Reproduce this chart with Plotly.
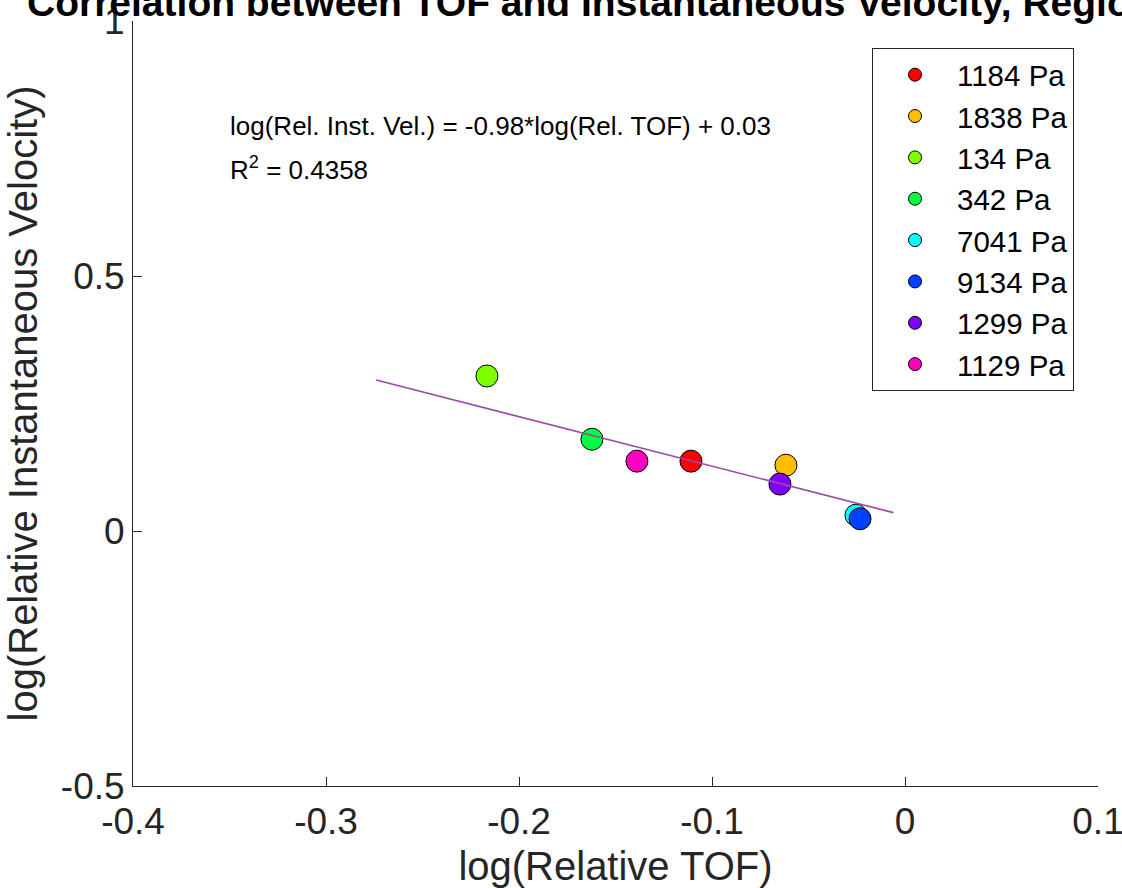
import plotly.graph_objects as go

# ---- data ----
labels = ["1184 Pa", "1838 Pa", "134 Pa", "342 Pa", "7041 Pa", "9134 Pa", "1299 Pa", "1129 Pa"]
colors = ["#FF0000", "#FFBF00", "#80FF00", "#00FF40", "#00FFFF", "#0040FF", "#8000FF", "#FF00BF"]
x_vals = [-0.1109, -0.0617, -0.2166, -0.1622, -0.0254, -0.0233, -0.0648, -0.1389]
y_vals = [0.137, 0.129, 0.304, 0.180, 0.031, 0.024, 0.092, 0.137]

fit_x = [-0.274, -0.006]
fit_y = [0.296, 0.036]

x_ticks = [-0.4, -0.3, -0.2, -0.1, 0, 0.1]
x_tick_text = ["-0.4", "-0.3", "-0.2", "-0.1", "0", "0.1"]
y_ticks = [-0.5, 0, 0.5, 1]
y_tick_text = ["-0.5", "0", "0.5", "1"]

title_text = "Correlation between TOF and Instantaneous Velocity, Region 1"
eq_text = "log(Rel. Inst. Vel.) = -0.98*log(Rel. TOF) + 0.03"
r2_text = "R<sup>2</sup> = 0.4358"

FONT = "Liberation Sans, Arial, Helvetica, sans-serif"
AX = "#262626"

W, H = 1122, 888
ML, MR, MT, MB = 133, 24, 21, 102
PW, PH = W - ML - MR, H - MT - MB


def px2paper_x(px):
    return (px - ML) / PW


def px2paper_y(py):
    return (H - MB - py) / PH


fig = go.Figure()

# data points (no legend)
for lab, col, xv, yv in zip(labels, colors, x_vals, y_vals):
    fig.add_trace(go.Scatter(
        x=[xv], y=[yv], mode="markers", name=lab, showlegend=False,
        marker=dict(size=22, color=col, line=dict(color="black", width=1)),
    ))

# fit line on top
fig.add_trace(go.Scatter(
    x=fit_x, y=fit_y, mode="lines", showlegend=False,
    line=dict(color="#9A4BA8", width=1.6),
))

# legend entries
for lab, col in zip(labels, colors):
    fig.add_trace(go.Scatter(
        x=[None], y=[None], mode="markers", name=lab,
        marker=dict(size=13, color=col, line=dict(color="black", width=1)),
    ))

fig.update_layout(
    width=W, height=H,
    margin=dict(l=ML, r=MR, t=MT, b=MB, pad=0),
    paper_bgcolor="white", plot_bgcolor="white",
    font=dict(family=FONT, color=AX),
    showlegend=True,
    legend=dict(
        x=px2paper_x(872), y=px2paper_y(48), xanchor="left", yanchor="top",
        bgcolor="white", bordercolor=AX, borderwidth=1,
        font=dict(family=FONT, size=29.5, color="black"),
        itemwidth=74,
    ),
    xaxis=dict(
        range=[-0.4, 0.1], tickvals=x_ticks, ticktext=x_tick_text,
        showgrid=False, zeroline=False,
        showline=True, linecolor=AX, linewidth=1, mirror=False,
        ticks="inside", ticklen=9, tickcolor=AX, tickwidth=1,
        ticklabelstandoff=3, ticklabeloverflow="allow",
        tickfont=dict(family=FONT, size=37, color=AX),
        title=dict(text="log(Relative TOF)", font=dict(family=FONT, size=40, color=AX), standoff=11),
        automargin=False,
    ),
    yaxis=dict(
        range=[-0.5, 1], tickvals=y_ticks, ticktext=y_tick_text,
        showgrid=False, zeroline=False,
        showline=True, linecolor=AX, linewidth=1, mirror=False,
        ticks="inside", ticklen=9, tickcolor=AX, tickwidth=1,
        ticklabeloverflow="allow",
        tickfont=dict(family=FONT, size=37, color=AX),
        title=dict(text="log(Relative Instantaneous Velocity)", font=dict(family=FONT, size=40, color=AX), standoff=10),
        automargin=False,
    ),
    annotations=[
        dict(text="<b>" + title_text + "</b>", xref="paper", yref="paper",
             x=px2paper_x(25), y=px2paper_y(2), xanchor="left", yanchor="middle",
             showarrow=False, font=dict(family=FONT, size=39, color="black")),
        dict(text=eq_text, xref="paper", yref="paper",
             x=px2paper_x(228), y=px2paper_y(126), xanchor="left", yanchor="middle",
             showarrow=False, font=dict(family=FONT, size=26, color="black")),
        dict(text=r2_text, xref="paper", yref="paper",
             x=px2paper_x(228), y=px2paper_y(168), xanchor="left", yanchor="middle",
             showarrow=False, font=dict(family=FONT, size=26, color="black")),
    ],
)

fig.write_html("out.html")
